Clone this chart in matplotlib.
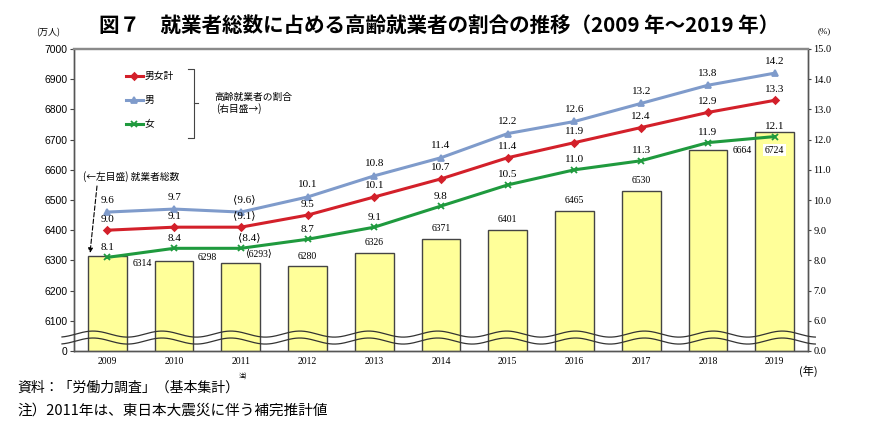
import matplotlib
matplotlib.use("Agg")
import matplotlib.pyplot as plt
import numpy as np
from matplotlib.lines import Line2D
from matplotlib.font_manager import FontProperties

# data
years = [2009, 2010, 2011, 2012, 2013, 2014, 2015, 2016, 2017, 2018, 2019]
employed = [6314, 6298, 6293, 6280, 6326, 6371, 6401, 6465, 6530, 6664, 6724]  # 万人
ratio_total = [9.0, 9.1, 9.1, 9.5, 10.1, 10.7, 11.4, 11.9, 12.4, 12.9, 13.3]
ratio_men = [9.6, 9.7, 9.6, 10.1, 10.8, 11.4, 12.2, 12.6, 13.2, 13.8, 14.2]
ratio_women = [8.1, 8.4, 8.4, 8.7, 9.1, 9.8, 10.5, 11.0, 11.3, 11.9, 12.1]
left_ticks = [6000, 6100, 6200, 6300, 6400, 6500, 6600, 6700, 6800, 6900, 7000]
right_ticks = [5, 6, 7, 8, 9, 10, 11, 12, 13, 14, 15]
estimated_year = 2011  # 補完推計値

W, H = 870, 442
JP = ["Noto Sans CJK JP", "DejaVu Sans"]
NUM = ["Liberation Serif", "DejaVu Serif", "DejaVu Sans", "Noto Sans CJK JP"]


def fx(px):
    return px / W


def fy(py):
    return 1 - py / H


fig = plt.figure(figsize=(W / 100, H / 100), dpi=100)
ax = fig.add_axes([fx(74), fy(351), (808 - 74) / W, (351 - 49) / H])

x = np.arange(len(years))
ax.bar(x, employed, width=0.58, color="#ffff99", edgecolor="#444444",
       linewidth=1.0, zorder=2)
ax.set_xlim(-0.5, len(years) - 0.5)
ax.set_ylim(left_ticks[0], left_ticks[-1])
ax.set_yticks(left_ticks)
ax.set_yticklabels(["0"] + [str(v) for v in left_ticks[1:]],
                   family="Liberation Sans", fontsize=7.5)
ax.set_xticks(x)
ax.set_xticklabels([str(y) for y in years], family=NUM, fontsize=7)
ax.tick_params(axis="x", length=0, pad=4)
ax.tick_params(axis="y", direction="out", length=3, pad=1.5, color="#444")

# bar value labels: offsets in pixels from bar top (style only)
bar_offsets = {2009: (35, -7), 2010: (33, 4), 2011: (18, 8), 2018: (34, 0), 2019: (0, -18)}
for i, v in enumerate(employed):
    dx, dy = bar_offsets.get(years[i], (0, 10))
    txt = f"⟨{v}⟩" if years[i] == estimated_year else str(v)
    bbox = None
    if years[i] == 2019:
        bbox = dict(boxstyle="square,pad=0.15", fc="white", ec="none")
    ax.annotate(txt, (i, v), xytext=(dx, dy), textcoords="offset pixels",
                ha="center", va="center", fontsize=7, family=NUM, zorder=3,
                bbox=bbox)

ax2 = ax.twinx()
ax2.set_ylim(right_ticks[0], right_ticks[-1])
ax2.set_yticks(right_ticks)
ax2.set_yticklabels(["0.0"] + [f"{v:.1f}" for v in right_ticks[1:]],
                    family=NUM, fontsize=7.5)
ax2.tick_params(axis="y", direction="out", length=2.5, pad=1.5, color="#444")

for a in (ax, ax2):
    for s in ("left", "right", "bottom"):
        a.spines[s].set_color("#555555")
        a.spines[s].set_linewidth(1.0)
    a.spines["top"].set_color("#8a8a8a")
    a.spines["top"].set_linewidth(1.6)

series = [
    ("男女計", ratio_total, "#d3202a", "D", 3.5, 11),
    ("男", ratio_men, "#7f9bcb", "^", 5, 12),
    ("女", ratio_women, "#1f9a3e", "x", 5, 10),
]
handles = []
for name, vals, color, marker, ms, dy in series:
    h, = ax2.plot(x, vals, color=color, lw=2.2, marker=marker, ms=ms,
                  mew=1.3, label=name, zorder=4)
    handles.append(h)
    for i, v in enumerate(vals):
        if years[i] == estimated_year:
            txt = f"⟨{v:.1f}⟩"
            off = (8 if name == "女" else 3, dy + 1)
        else:
            txt = f"{v:.1f}"
            off = (0, dy)
        ax2.annotate(txt, (i, v), xytext=off, textcoords="offset pixels",
                     ha="center", va="center", fontsize=8, family=NUM, zorder=5)

# wavy break marks across the bottom of both axes
xs = np.linspace(-0.68, 10.61, 800)
wave = 0.1 * np.cos(2 * np.pi * (xs + 0.215) / 1.033)
for base in (5.56, 5.33):
    ax2.plot(xs, base + wave, color="#333333", lw=0.9, clip_on=False, zorder=3)

ax2.legend(handles=handles, loc="upper left",
           bbox_to_anchor=(fx(126), fy(71)), bbox_transform=fig.transFigure,
           frameon=False, prop=FontProperties(family=JP, size=7),
           handlelength=1.7, handletextpad=0.2, labelspacing=1.45,
           borderpad=0, borderaxespad=0)

# bracket next to the legend
fig.add_artist(Line2D([fx(188), fx(194), fx(194), fx(188)],
                      [fy(69), fy(69), fy(138), fy(138)], color="#444", lw=0.8))
fig.add_artist(Line2D([fx(194), fx(198)], [fy(103), fy(103)], color="#444", lw=0.8))
fig.text(fx(214), fy(97), "高齢就業者の割合", family=JP, fontsize=7, va="center")
fig.text(fx(216), fy(109), "(右目盛→)", family=JP, fontsize=7, va="center")

fig.text(fx(83), fy(177), "(←左目盛) 就業者総数", family=JP, fontsize=7, va="center")
ax.annotate("", xy=(fx(90), fy(253)), xycoords="figure fraction",
            xytext=(fx(97), fy(186)), textcoords="figure fraction",
            arrowprops=dict(arrowstyle="-|>", color="black", lw=0.8,
                            linestyle=(0, (4, 2)), mutation_scale=7,
                            shrinkA=0, shrinkB=0))

fig.text(0.505, fy(25), "図７　就業者総数に占める高齢就業者の割合の推移（2009 年～2019 年）",
         family=JP, fontsize=14.8, fontweight="bold", ha="center", va="center")
fig.text(fx(36), fy(33), "(万人)", family=JP, fontsize=6.5, va="center")
fig.text(fx(818), fy(31), "(%)", family=NUM, fontsize=6.5, va="center")
fig.text(fx(799), fy(371), "(年)", family=JP, fontsize=8, va="center")
fig.text(fx(243), fy(377), "注)", family=JP, fontsize=4.5, ha="center", va="center")

fig.text(fx(17), fy(388), "資料：「労働力調査」（基本集計）", family=JP, fontsize=10, va="center")
fig.text(fx(17), fy(411), "注）2011年は、東日本大震災に伴う補完推計値", family=JP,
         fontsize=10.5, va="center")

fig.savefig("out.png", dpi=100)
